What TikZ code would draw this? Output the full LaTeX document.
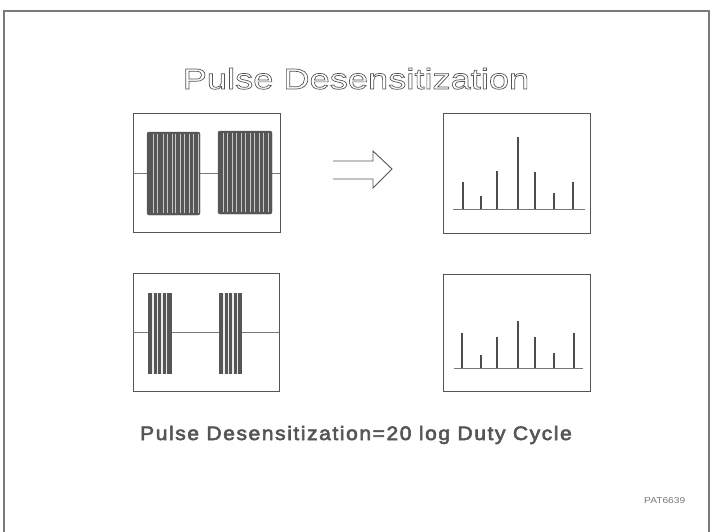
\documentclass[tikz,border=0pt]{standalone}
\usepackage{fontspec}
\setmainfont{Liberation Sans}
\newfontfamily\titlefont{Liberation Sans}[FakeStretch=1.25]
\newfontfamily\formulafont{Liberation Sans}[FakeStretch=1.08,LetterSpace=8,FakeBold=3]
\newfontfamily\tagfont{Liberation Sans}[FakeStretch=1.2]
\definecolor{frame}{HTML}{7A7A7A}
\definecolor{ink}{HTML}{555555}
\definecolor{burst}{HTML}{565656}
\definecolor{stripe}{HTML}{C8C8C8}
\newcommand{\outlinetext}[1]{\special{pdf:literal direct 1 Tr 0.7 w}#1\special{pdf:literal direct 0 Tr}}
\tikzset{
  screen/.style={draw=ink, line width=0.9pt},
  trace/.style={draw=ink!80, line width=0.9pt},
  spike/.style={draw=ink!90!black, line width=1.2pt},
  burstbox/.style={fill=burst, draw=burst, rounded corners=2pt},
  stripeline/.style={draw=stripe, line width=1pt},
  gapline/.style={draw=white!85!gray, line width=1.1pt},
  txt/.style={inner sep=0pt, anchor=base, text=ink}
}
\begin{document}
\begin{tikzpicture}[x=1pt,y=-1pt]
\useasboundingbox (0,0) rectangle (711,531);
\fill[white] (0,0) rectangle (711,531);
% outer frame
\draw[frame, line width=2.6pt] (4,540) -- (4,11) -- (709,11) -- (709,540);

% title
\node[txt, font=\titlefont\fontsize{29}{30}\selectfont] (title) at (356,89) {\outlinetext{Pulse Desensitization}};

% ---------- top left: wide pulses ----------
\draw[screen] (133,113) rectangle (280,232);
\draw[trace] (133,173) -- (147,173) (200,173) -- (218,173) (272,173) -- (280,173);
\draw[burstbox] (147,132) rectangle (200,215);
\draw[burstbox] (218,131) rectangle (272,214);
\foreach \x in {153,157.5,163,167,172,175.5,180.5,184,189,193.5,198}
  \draw[stripeline] (\x,134) -- (\x,213);
\foreach \x in {223,227.5,232,236.5,241,245.5,250,254.5,259,263.5,268}
  \draw[stripeline] (\x,133) -- (\x,212);

% arrow
\draw[draw=ink, line width=0.9pt] (333,161) -- (373,161) -- (373,151) -- (392,169) -- (373,188) -- (373,179) -- (333,179);

% ---------- top right: spectrum ----------
\draw[screen] (443,113) rectangle (590,233);
\draw[trace] (453,209) -- (585,209);
\foreach \x/\t in {463/182,481/196,497/171,518/137,535/172,554/193,573/182}
  \draw[spike] (\x,209) -- (\x,\t);

% ---------- bottom left: narrow pulses ----------
\draw[screen] (133,273) rectangle (279,391);
\draw[trace] (133,332) -- (148,332) (172,332) -- (219,332) (242,332) -- (279,332);
\fill[burst] (148,293) rectangle (172,374);
\fill[burst] (219,293) rectangle (242,374);
\foreach \x in {153,157.5,162,166.5}
  \draw[gapline] (\x,293) -- (\x,374);
\foreach \x in {224,228.5,233,237.5}
  \draw[gapline] (\x,293) -- (\x,374);

% ---------- bottom right: spectrum ----------
\draw[screen] (443,274) rectangle (590,391);
\draw[trace] (454,368) -- (583,368);
\foreach \x/\t in {462/333,481/355,497/337,518/321,535/337,554/353,574/333}
  \draw[spike] (\x,368) -- (\x,\t);

% formula
\node[txt, font=\formulafont\fontsize{19.5}{21}\selectfont] (formula) at (356,440) {Pulse Desensitization=20 log Duty Cycle};

% tag
\node[txt, anchor=base west, text=ink!80, font=\tagfont\fontsize{8.5}{9}\selectfont] (tag) at (644,503) {PAT6639};
\end{tikzpicture}
\end{document}
